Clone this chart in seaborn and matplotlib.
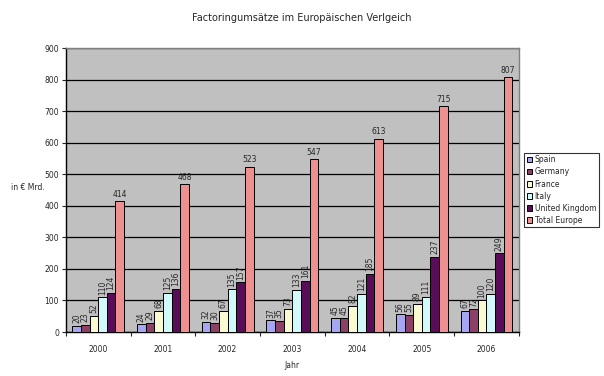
import seaborn as sns
import matplotlib.pyplot as plt
import pandas as pd

# Daten
jahre = ["2000", "2001", "2002", "2003", "2004", "2005", "2006"]
laender = ["Spain", "Germany", "France", "Italy", "United Kingdom", "Total Europe"]
spain = [20, 24, 32, 37, 45, 56, 67]
germany = [23, 29, 30, 35, 45, 55, 72]
france = [52, 68, 67, 73, 82, 89, 100]
italy = [110, 125, 135, 133, 121, 111, 120]
uk = [124, 136, 157, 161, 185, 237, 249]
total = [414, 468, 523, 547, 613, 715, 807]
farben = ["#9999FF", "#993366", "#FFFFCC", "#CCFFFF", "#660066", "#FF8080"]

werte = [spain, germany, france, italy, uk, total]
rows = []
for land, serie in zip(laender, werte):
    for j, v in zip(jahre, serie):
        rows.append({"Jahr": j, "Land": land, "Wert": v})
df = pd.DataFrame(rows)

sns.set_style("white")
plt.rcParams["font.family"] = ["DejaVu Sans"]

fig = plt.figure(figsize=(6.04, 3.76), dpi=100)
ax = fig.add_axes([0.109, 0.117, 0.75, 0.755])
ax.set_facecolor("#C0C0C0")

sns.barplot(data=df, x="Jahr", y="Wert", hue="Land", hue_order=laender,
            palette=farben, edgecolor="black", linewidth=0.7, width=0.8,
            ax=ax, zorder=3)

for i, cont in enumerate(ax.containers):
    if i == len(ax.containers) - 1:
        ax.bar_label(cont, padding=2, fontsize=5.5)
    else:
        ax.bar_label(cont, padding=2, fontsize=5.5, rotation=90)

ax.set_ylim(0, 900)
ax.set_yticks(range(0, 901, 100))
ax.set_xlim(-0.5, 6.5)
ax.yaxis.grid(True, color="black", linewidth=0.9, zorder=0)
ax.set_axisbelow(True)

for s in ["top", "right"]:
    ax.spines[s].set_color("#808080")
    ax.spines[s].set_linewidth(1)
for s in ["left", "bottom"]:
    ax.spines[s].set_color("black")
    ax.spines[s].set_linewidth(1)

ax.tick_params(axis="y", left=True, length=3, width=0.8, labelsize=5.5, pad=2)
ax.tick_params(axis="x", bottom=False, labelsize=5.5, pad=6)
# Teilstriche zwischen den Gruppen
ax.set_xticks([x - 0.5 for x in range(8)], minor=True)
ax.tick_params(axis="x", which="minor", bottom=True, length=3, width=0.8)

ax.set_xlabel("Jahr", fontsize=5.5, labelpad=5)
ax.set_ylabel("")
fig.text(0.018, 0.5, "in € Mrd.", fontsize=5.5, va="center", ha="left")
fig.suptitle("Factoringumsätze im Europäischen Verlgeich", fontsize=7, y=0.965)

leg = ax.legend(loc="center left", bbox_to_anchor=(1.012, 0.5), fontsize=5.5,
                frameon=True, fancybox=False, edgecolor="black",
                handlelength=0.7, handleheight=0.7, handletextpad=0.3,
                borderpad=0.35, labelspacing=0.4, borderaxespad=0)
leg.get_frame().set_linewidth(0.8)

fig.savefig("out.png", dpi=100)
